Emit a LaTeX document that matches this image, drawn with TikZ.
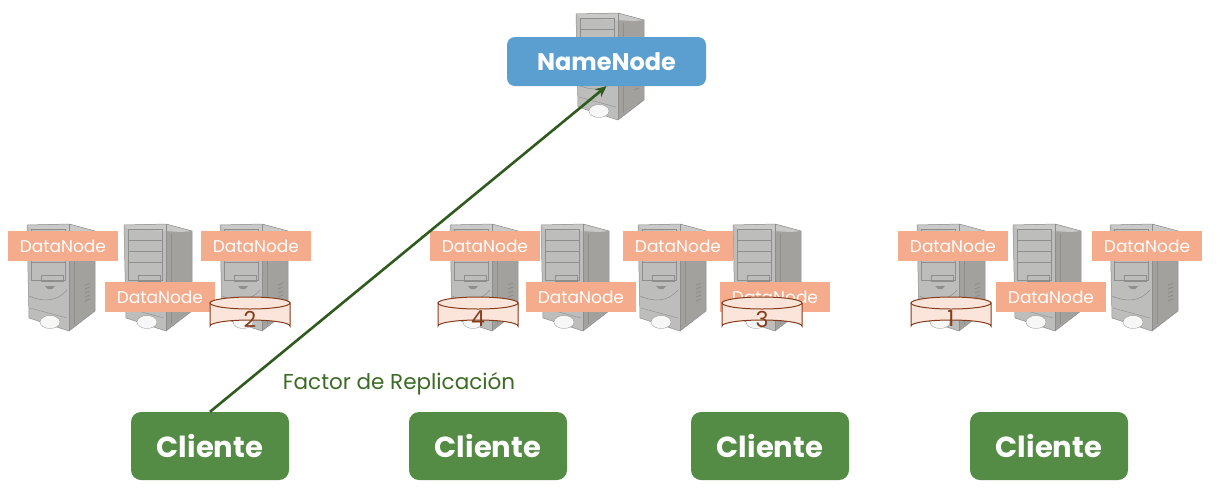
\documentclass[tikz,border=0pt]{standalone}
\usepackage{fontspec}
\setmainfont{Poppins}
\usetikzlibrary{arrows.meta}
\definecolor{nameblue}{HTML}{5B9FD0}
\definecolor{dnsalmon}{HTML}{F4AC8C}
\definecolor{cligreen}{HTML}{548B45}
\definecolor{linegreen}{HTML}{2F5C1E}
\definecolor{textgreen}{HTML}{3B6B25}
\definecolor{cylfill}{HTML}{FBE5DA}
\definecolor{cylline}{HTML}{843C1C}
\definecolor{srvfront}{HTML}{BDBDBB}
\definecolor{srvside}{HTML}{A3A19E}
\definecolor{srvtop}{HTML}{C9C9C7}
\definecolor{srvline}{HTML}{8E8E8C}
\tikzset{
  x=1pt,y=-1pt,
  datanode/.style={fill=dnsalmon,text=white,minimum width=110pt,minimum height=30pt,inner sep=0pt,font=\fontsize{17}{20}\selectfont},
  cliente/.style={fill=cligreen,text=white,rounded corners=10pt,minimum width=158pt,minimum height=68pt,inner sep=0pt,font=\fontsize{29}{34}\selectfont\bfseries},
  namenode/.style={fill=nameblue,text=white,rounded corners=8pt,minimum width=199pt,minimum height=49pt,inner sep=0pt,font=\fontsize{24}{28}\selectfont\bfseries},
  disklabel/.style={text=cylline,inner sep=0pt,font=\fontsize{22}{26}\selectfont},
  server/.pic={
    \fill[srvfront] (0,1) -- (42,0) -- (42,107) -- (2,94) -- cycle;
    \fill[srvside] (42,0) -- (68,7) -- (68,87) -- (42,107) -- cycle;
    \fill[srvtop] (0,1) -- (42,0) -- (68,7) -- (58,8) -- (4,5) -- cycle;
    \draw[srvline,line width=.5pt] (0,1) -- (42,0) -- (68,7) -- (68,87) -- (42,107) -- (2,94) -- cycle;
    \draw[srvline,line width=.5pt] (42,0) -- (42,107);
    \draw[srvline,line width=.5pt] (4,5) rectangle (38,56);
    \draw[srvline,line width=.4pt] (4,16) -- (38,16) (4,27) -- (38,27) (4,38) -- (38,38);
    \draw[srvline,line width=.5pt] (14,51) rectangle (36,57);
    \fill[srvline] (18,62) -- (28,62) -- (25,65) -- (21,65) -- cycle;
    \draw[srvline,line width=.5pt] (2,72) .. controls (15,78) and (30,78) .. (40,66);
    \draw[srvline,line width=.4pt] (3,84) -- (40,94);
    \fill[white!88!srvfront,draw=srvline,line width=.3pt] (23,98) ellipse (10pt and 6.5pt);
    \draw[srvline,line width=1pt] (58,61) -- (63,59) (58,65) -- (63,63) (58,69) -- (63,67) (58,73) -- (63,71) (58,77) -- (63,75);
    \draw[srvline,line width=.4pt] (47,10) -- (47,100);
  },
  disk/.pic={
    \fill[cylfill,draw=cylline,line width=1pt] (-40,-12) -- (-40,11) arc[start angle=180,end angle=360,x radius=40,y radius=6] -- (40,-12) -- cycle;
    \fill[cylfill,draw=cylline,line width=1pt] (0,-12) ellipse (40pt and 6pt);
  }
}
\begin{document}
\begin{tikzpicture}
\useasboundingbox (0,0) rectangle (1226,499);
\fill[white] (0,0) rectangle (1226,499);
% servers
\path (576,13) pic {server};
\foreach \sx in {27,124,220,450,541,638,733,917,1013,1110}
  \path (\sx,224) pic {server};
% data nodes
\node[datanode] (dn1) at (63,246) {DataNode};
\node[datanode] (dn2) at (160,297) {DataNode};
\node[datanode] (dn3) at (256,246) {DataNode};
\node[datanode] (dn4) at (485,246) {DataNode};
\node[datanode] (dn5) at (581,297) {DataNode};
\node[datanode] (dn6) at (678,246) {DataNode};
\node[datanode] (dn7) at (775,297) {DataNode};
\node[datanode] (dn8) at (953,246) {DataNode};
\node[datanode] (dn9) at (1051,297) {DataNode};
\node[datanode] (dn10) at (1147,246) {DataNode};
% disks
\path (250,315) pic {disk};
\node[disklabel] (d2) at (250,319) {2};
\path (478,315) pic {disk};
\node[disklabel] (d4) at (478,319) {4};
\path (762,315) pic {disk};
\node[disklabel] (d3) at (762,319) {3};
\path (951,315) pic {disk};
\node[disklabel] (d1) at (951,319) {1};
% boxes
\node[namenode] (nn) at (606.5,61.5) {NameNode};
\node[cliente] (c1) at (210,446) {Cliente};
\node[cliente] (c2) at (488,446) {Cliente};
\node[cliente] (c3) at (770,446) {Cliente};
\node[cliente] (c4) at (1049,446) {Cliente};
\node[text=textgreen,inner sep=0pt,font=\fontsize{21.5}{26}\selectfont] (fr) at (399,384) {Factor de Replicación};
\draw[linegreen,line width=2.6pt,-{Stealth[length=11pt,width=10pt]}] (c1.north) -- (nn.south);
\end{tikzpicture}
\end{document}
